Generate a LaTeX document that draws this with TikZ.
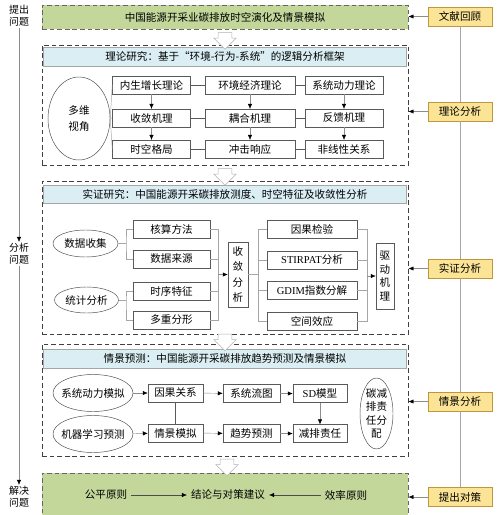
\documentclass[tikz,border=0pt]{standalone}
\usepackage{fontspec}
\setmainfont{Noto Sans CJK SC}
\newfontfamily\latfont{Liberation Serif}
\usetikzlibrary{shapes.geometric,shapes.arrows,arrows.meta,positioning,calc}
\definecolor{topgreen}{RGB}{196,215,155}
\definecolor{headblue}{RGB}{219,238,244}
\definecolor{tagyellow}{RGB}{252,228,150}
\definecolor{tagedge}{RGB}{191,150,60}

\begin{document}
\begin{tikzpicture}[x=0.03cm, y=-0.03cm,
  every node/.style={font=\fontsize{9}{11}\selectfont},
  box/.style={rectangle, draw=black!65, fill=white, minimum height=0.53cm, inner sep=1pt, align=center},
  vbox/.style={rectangle, draw=black!65, fill=white, inner sep=1pt, align=center},
  oval/.style={ellipse, draw=black!70, fill=white, align=center, inner xsep=-3pt, inner ysep=0pt},
  sectionbox/.style={rectangle, draw=black!75, thick, dash pattern=on 4pt off 2.5pt, fill=white, minimum width=10.98cm},
  headband/.style={rectangle, draw=black!35, fill=headblue, minimum width=10.9cm, minimum height=0.57cm},
  greenbox/.style={rectangle, draw=black!60, thick, dash pattern=on 4pt off 2.5pt, fill=topgreen, minimum width=10.98cm},
  sidetag/.style={rectangle, draw=tagedge, fill=tagyellow, thick, minimum width=1.92cm, minimum height=0.57cm},
  stage/.style={font=\fontsize{8.5}{10.5}\selectfont, align=center, inner sep=1pt},
  arrow/.style={draw=black!45, -{Latex[length=1.5mm, width=1.3mm, color=black]}},
  link/.style={draw=black!35},
  tie/.style={draw=black!65},
  hollow/.style={single arrow, draw=black!30, fill=white, rotate=-90, inner xsep=0pt, inner ysep=0.2cm, single arrow head extend=0.13cm, minimum height=0.5cm},
]
\useasboundingbox (0,0) rectangle (500,515);

% === Goal ===
\node[greenbox, minimum height=0.72cm] (goal) at (225,17) {中国能源开采业碳排放时空演化及情景模拟};

% === Theory ===
\node[sectionbox, minimum height=3.6cm] (sec1) at (225,105) {};
\node[headband] (head1) at (225,56.5) {理论研究：基于“环境-行为-系统”的逻辑分析框架};
\node[oval, minimum width=1.86cm, minimum height=2.49cm, font=\fontsize{9}{13}\selectfont] (view) at (79,118.5) {多维\\视角};

\node[box, minimum width=2.34cm] (th1) at (151.5,85) {内生增长理论};
\node[box, minimum width=2.7cm] (th2) at (250,85) {环境经济理论};
\node[box, minimum width=2.34cm] (th3) at (344,85) {系统动力理论};
\node[box, minimum width=2.34cm] (mech1) at (151.5,118) {收敛机理};
\node[box, minimum width=2.7cm] (mech2) at (250,118) {耦合机理};
\node[box, minimum width=2.34cm] (mech3) at (344,118) {反馈机理};
\node[box, minimum width=2.34cm] (out1) at (151.5,149) {时空格局};
\node[box, minimum width=2.7cm] (out2) at (250,149) {冲击响应};
\node[box, minimum width=2.34cm] (out3) at (344,149) {非线性关系};

\draw[link] (view.east) -- (th1.west);
\draw[link] (view.east) -- (mech1.west);
\draw[link] (view.east) -- (out1.west);
\draw[tie] (th1) -- (th2) -- (th3);
\draw[tie] (mech1) -- (mech2) -- (mech3);
\draw[tie] (out1) -- (out2) -- (out3);
\foreach \col in {1,2,3} {
  \draw[arrow] (th\col) -- (mech\col);
  \draw[arrow] (mech\col) -- (out\col);
}

% === Empirical ===
\node[sectionbox, minimum height=4.59cm] (sec2) at (225,257.5) {};
\node[headband, minimum height=0.54cm] (head2) at (225,194.5) {实证研究：中国能源开采碳排放测度、时空特征及收敛性分析};
\node[oval, minimum width=1.95cm, minimum height=0.81cm] (collect) at (85.5,243.5) {数据收集};
\node[oval, minimum width=1.92cm, minimum height=0.78cm] (stat) at (86.5,300) {统计分析};

\node[box, minimum width=2.31cm] (acc) at (171.5,229) {核算方法};
\node[box, minimum width=2.31cm] (src) at (171.5,259) {数据来源};
\node[box, minimum width=2.31cm] (seq) at (171.5,291) {时序特征};
\node[box, minimum width=2.31cm] (frac) at (171.5,320) {多重分形};

\node[vbox, minimum width=0.6cm, minimum height=1.95cm, font=\fontsize{9}{13}\selectfont] (conv) at (238,274.5) {收\\敛\\分\\析};

\node[box, minimum width=2.7cm] (cause) at (312,229) {因果检验};
\node[box, minimum width=2.7cm] (stir) at (312,260) {{\latfont STIRPAT}分析};
\node[box, minimum width=2.7cm] (gdim) at (312,290.5) {{\latfont GDIM}指数分解};
\node[box, minimum width=2.7cm] (space) at (312,321) {空间效应};

\node[vbox, minimum width=0.54cm, minimum height=1.98cm, font=\fontsize{9}{11.5}\selectfont] (drive) at (385,276) {驱\\动\\机\\理};

\coordinate (b1) at (126,243.5);
\coordinate (b2) at (126,300);
\coordinate (b3) at (218,274.5);
\coordinate (b4) at (258,274.5);
\coordinate (b5) at (367,276);

\draw[link] (collect.east) -- (b1);
\draw[link] (acc.west) -| (b1) |- (src.west);
\draw[link] (stat.east) -- (b2);
\draw[link] (seq.west) -| (b2) |- (frac.west);
\draw[link] (acc.east) -| (b3);
\draw[link] (frac.east) -| (b3);
\draw[link] (src.east) -- (src.east -| b3);
\draw[link] (seq.east) -- (seq.east -| b3);
\draw[arrow] (b3) -- (conv.west);

\draw[link] (conv.east) -- (b4);
\draw[link] (cause.west) -| (b4);
\draw[link] (space.west) -| (b4);
\draw[link] (stir.west) -- (stir.west -| b4);
\draw[link] (gdim.west) -- (gdim.west -| b4);
\draw[link] (cause.east) -| (b5);
\draw[link] (space.east) -| (b5);
\draw[link] (stir.east) -- (stir.east -| b5);
\draw[link] (gdim.east) -- (gdim.east -| b5);
\draw[arrow] (b5) -- (drive.west);

% === Scenario ===
\node[sectionbox, minimum height=3.36cm] (sec3) at (225,400) {};
\node[headband] (head3) at (225,358.5) {情景预测：中国能源开采碳排放趋势预测及情景模拟};
\node[oval, minimum width=2.4cm, minimum height=1.11cm] (sdsim) at (93,393) {系统动力模拟};
\node[oval, minimum width=2.4cm, minimum height=1.11cm] (mlpred) at (93,434) {机器学习预测};

\node[box, minimum width=1.65cm] (causal) at (175.5,393) {因果关系};
\node[box, minimum width=1.65cm] (scen) at (175.5,433) {情景模拟};
\node[box, minimum width=1.71cm] (flow) at (251.5,393.5) {系统流图};
\node[box, minimum width=1.71cm] (trendp) at (251.5,433.5) {趋势预测};
\node[box, minimum width=1.62cm] (sdm) at (320,393.5) {{\latfont SD}模型};
\node[box, minimum width=1.62cm] (resp) at (320,433.5) {减排责任};
\node[oval, minimum width=0.99cm, minimum height=2.13cm, inner ysep=-1pt, font=\fontsize{9}{11.3}\selectfont] (alloc) at (376.5,413.5) {碳减\\排责\\任分\\配};

\draw[arrow] (sdsim) -- (causal);
\draw[arrow] (mlpred) -- (scen);
\draw[tie] (causal) -- (scen);
\draw[arrow] (causal) -- (flow);
\draw[arrow] (flow) -- (sdm);
\draw[arrow] (scen) -- (trendp);
\draw[arrow] (trendp) -- (resp);
\draw[arrow] (sdm) -- (resp);

% === Conclusion ===
\node[greenbox, minimum height=1.41cm] (final) at (225,496.5) {};
\node (fair) at (106,495) {公平原则};
\node (concl) at (228,495) {结论与对策建议};
\node (eff) at (346,495) {效率原则};
\draw[arrow, draw=black!70] (fair) -- (concl);
\draw[arrow, draw=black!70] (eff) -- (concl);

% === Hollow arrows between stages ===
\node[hollow] (down1) at (225,37.5) {};
\node[hollow] (down2) at (225,173.5) {};
\node[hollow] (down3) at (225,339) {};
\node[hollow] (down4) at (227,464) {};

% === Right side ===
\node[sidetag] (lit) at (460,16.5) {文献回顾};
\node[sidetag] (theo) at (460,111.5) {理论分析};
\node[sidetag] (emp) at (460,268.5) {实证分析};
\node[sidetag] (scn) at (460,401.5) {情景分析};
\node[sidetag] (plan) at (460,497) {提出对策};
\draw[link] (lit) -- (theo) -- (emp) -- (scn) -- (plan);
\draw[arrow] (lit.west) -- (lit.west -| goal.east);
\draw[arrow] (theo.west) -- (theo.west -| sec1.east);
\draw[arrow] (emp.west) -- (emp.west -| sec2.east);
\draw[arrow] (scn.west) -- (scn.west -| sec3.east);
\draw[arrow] (plan.west) -- (plan.west -| final.east);

% === Left side ===
\node[stage] (p1) at (19,16) {提出\\问题};
\node[stage] (p2) at (19,254) {分析\\问题};
\node[stage] (p3) at (19,497) {解决\\问题};
\draw[arrow] (p1) -- (p2);
\draw[arrow] (p2) -- (p3);

\end{tikzpicture}
\end{document}
